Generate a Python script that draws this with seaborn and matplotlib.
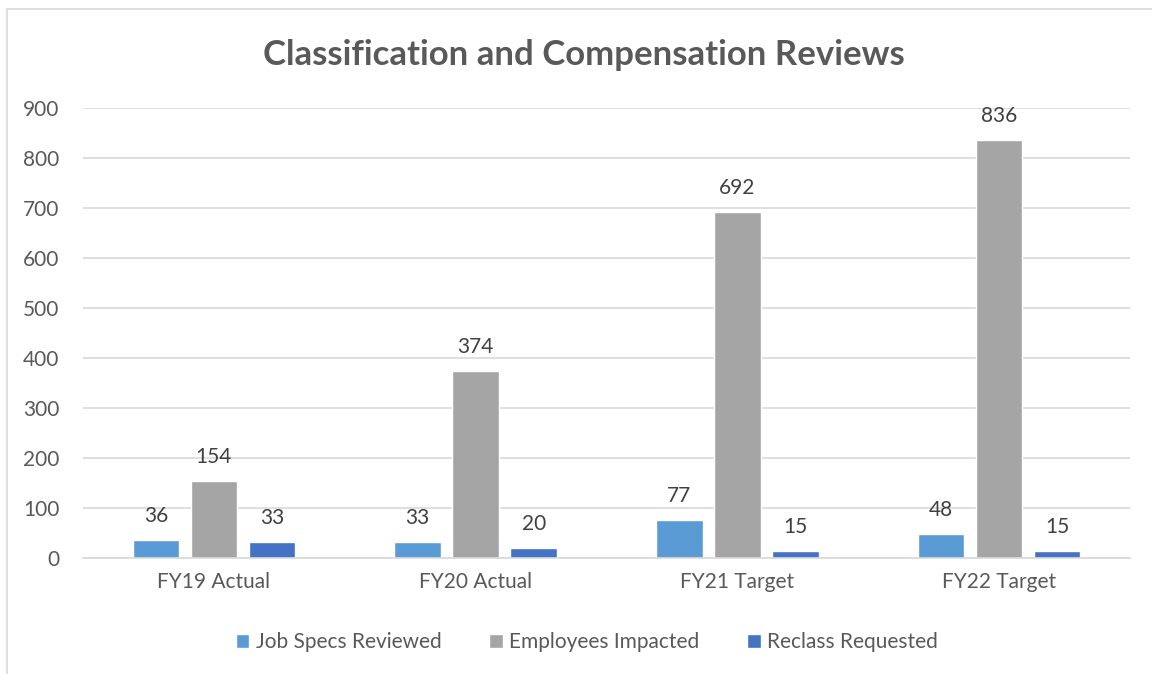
import pandas as pd
import seaborn as sns
import matplotlib.pyplot as plt
from matplotlib.patches import Rectangle

# data
years = ["FY19 Actual", "FY20 Actual", "FY21 Target", "FY22 Target"]
job_specs = [36, 33, 77, 48]
employees = [154, 374, 692, 836]
reclass = [33, 20, 15, 15]
series = ["Job Specs Reviewed", "Employees Impacted", "Reclass Requested"]
colors = ["#5B9BD5", "#A5A5A5", "#4472C4"]

df = pd.DataFrame({
    "year": years * 3,
    "series": [series[0]] * 4 + [series[1]] * 4 + [series[2]] * 4,
    "value": job_specs + employees + reclass,
})

sns.set_theme(style="white")
plt.rcParams["font.family"] = ["Lato", "DejaVu Sans"]
text_col = "#595959"

fig = plt.figure(figsize=(11.52, 6.74), dpi=100)
# chart border (cut off on the right and bottom like the original)
fig.patches.append(Rectangle((7 / 1152, -0.1), 2, (1 - 9 / 674) + 0.1,
                             transform=fig.transFigure, fill=False,
                             edgecolor="#D9D9D9", linewidth=1.2))
ax = fig.add_axes([83 / 1152, 1 - 558 / 674, 1047 / 1152, 450 / 674])

sns.barplot(data=df, x="year", y="value", hue="series", palette=colors,
            order=years, hue_order=series, width=0.665, gap=0.2,
            saturation=1, ax=ax, legend=True)

for cont in ax.containers:
    ax.bar_label(cont, padding=10, fontsize=15, color="#404040")

ax.set_ylim(0, 900)
ax.set_yticks(range(0, 901, 100))
ax.set_xlim(-0.5, 3.5)
ax.yaxis.grid(True, color="#D9D9D9", linewidth=1.2)
ax.set_axisbelow(True)
for s in ["left", "right", "top"]:
    ax.spines[s].set_visible(False)
ax.spines["bottom"].set_color("#D9D9D9")
ax.spines["bottom"].set_linewidth(1.2)
ax.tick_params(axis="both", length=0, labelsize=15, colors=text_col)
ax.tick_params(axis="y", pad=17)
ax.tick_params(axis="x", pad=10)
ax.set_xlabel("")
ax.set_ylabel("")

fig.text(584 / 1152, 1 - 55 / 674, "Classification and Compensation Reviews",
         ha="center", va="center", fontsize=25, fontweight="bold", color=text_col)

handles, labels = ax.get_legend_handles_labels()
ax.legend_.remove()
fig.legend(handles, labels, loc="center", bbox_to_anchor=(587 / 1152, 1 - 642 / 674),
           ncol=3, frameon=False, fontsize=15, handlelength=0.65, handleheight=0.65,
           handletextpad=0.3, columnspacing=2.3, labelcolor=text_col)

fig.savefig("out.png", dpi=100)
